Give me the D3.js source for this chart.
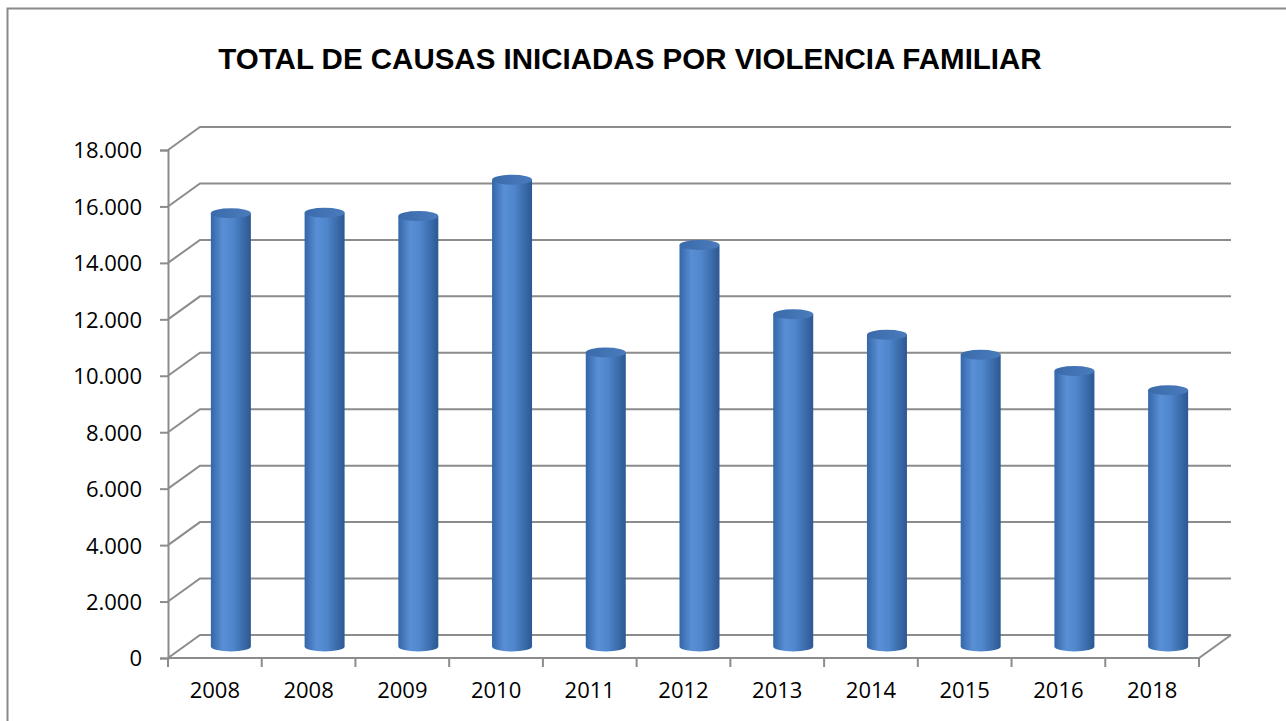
<!DOCTYPE html>
<html>
<head>
<meta charset="utf-8">
<script src="https://cdn.jsdelivr.net/npm/d3@7"></script>
<style>
  body { margin: 0; background: #fff; }
  svg { display: block; }
  .tick text { font-family: "Open Sans", Lato, sans-serif; font-weight: 400; font-size: 22px; fill: #000; }
</style>
</head>
<body>
<div id="chart"></div>
<script>
// data
var years = ["2008", "2008", "2009", "2010", "2011", "2012", "2013", "2014", "2015", "2016", "2018"];
var causas = [15350, 15370, 15250, 16540, 10420, 14225, 11770, 11045, 10340, 9760, 9080];
var yTicks = [0, 2000, 4000, 6000, 8000, 10000, 12000, 14000, 16000, 18000];

var width = 1286,
  height = 721;

// 3d depth of the plot (back wall offset)
var depthX = 32,
  depthY = -23;

var svg = d3
  .select("#chart")
  .append("svg")
  .attr("width", width)
  .attr("height", height);

// outer chart border
svg
  .append("rect")
  .attr("x", 7.5)
  .attr("y", 8.5)
  .attr("width", width)
  .attr("height", height)
  .attr("fill", "none")
  .attr("stroke", "#8a8a8a")
  .attr("stroke-width", 2);

svg
  .append("text")
  .attr("x", 630)
  .attr("y", 69)
  .attr("text-anchor", "middle")
  .style("font-family", "'Liberation Sans', Arial, sans-serif")
  .style("font-weight", "bold")
  .style("font-size", "29.5px")
  .text("TOTAL DE CAUSAS INICIADAS POR VIOLENCIA FAMILIAR");

var x = d3
  .scaleBand()
  .domain(d3.range(years.length))
  .range([168, 1199])
  .paddingInner(0)
  .paddingOuter(0);

var y = d3.scaleLinear().domain([0, 18000]).range([658, 150]);

var defs = svg.append("defs");
var grad = defs
  .append("linearGradient")
  .attr("id", "cyl")
  .attr("x1", "0%")
  .attr("x2", "100%");
grad.append("stop").attr("offset", "0%").attr("stop-color", "#3466a8");
grad.append("stop").attr("offset", "30%").attr("stop-color", "#5a8fd5");
grad.append("stop").attr("offset", "55%").attr("stop-color", "#4f86cc");
grad.append("stop").attr("offset", "100%").attr("stop-color", "#2c5892");

var topGrad = defs
  .append("linearGradient")
  .attr("id", "cylTop")
  .attr("x1", "0%")
  .attr("x2", "100%");
topGrad.append("stop").attr("offset", "0%").attr("stop-color", "#3a6aaa");
topGrad.append("stop").attr("offset", "100%").attr("stop-color", "#4a7cbd");

var gridColor = "#8c8c8c";
var grid = svg.append("g").attr("class", "grid");

// back wall lines and side wall diagonals
grid
  .selectAll("path.gl")
  .data(yTicks)
  .enter()
  .append("path")
  .attr("class", "gl")
  .attr("fill", "none")
  .attr("stroke", gridColor)
  .attr("stroke-width", 2)
  .attr("d", (d) => {
    var y0 = y(d);
    return (
      "M" + x.range()[0] + "," + y0 +
      "L" + (x.range()[0] + depthX) + "," + (y0 + depthY) +
      "L" + (x.range()[1] + depthX) + "," + (y0 + depthY)
    );
  });

// floor: front edge and right diagonal
grid
  .append("path")
  .attr("fill", "none")
  .attr("stroke", gridColor)
  .attr("stroke-width", 2)
  .attr(
    "d",
    "M" + x.range()[0] + "," + y(0) +
      "L" + x.range()[1] + "," + y(0) +
      "L" + (x.range()[1] + depthX) + "," + (y(0) + depthY)
  );

// category boundary ticks
grid
  .selectAll("line.xt")
  .data(d3.range(years.length + 1))
  .enter()
  .append("line")
  .attr("class", "xt")
  .attr("x1", (i) => (i < years.length ? x(i) : x.range()[1]))
  .attr("x2", (i) => (i < years.length ? x(i) : x.range()[1]))
  .attr("y1", y(0))
  .attr("y2", y(0) + 9)
  .attr("stroke", gridColor)
  .attr("stroke-width", 2);

// y axis
var y_axis = d3
  .axisLeft(y)
  .tickValues(yTicks)
  .tickSize(8)
  .tickPadding(18)
  .tickFormat((d) => d3.format(",")(d).replace(/,/g, "."));

var yg = svg
  .append("g")
  .attr("id", "y-axis")
  .attr("transform", "translate(168,0)")
  .call(y_axis);
yg.select(".domain").attr("stroke", gridColor).attr("stroke-width", 2);
yg.selectAll(".tick line").attr("stroke", gridColor).attr("stroke-width", 2);
yg.selectAll(".tick text").attr("dy", "0.36em");

// x axis labels at category centres
var x_axis = d3
  .axisBottom(x)
  .tickSize(0)
  .tickPadding(24)
  .tickFormat((i) => years[i]);

var xg = svg
  .append("g")
  .attr("id", "x-axis")
  .attr("transform", "translate(0," + y(0) + ")")
  .call(x_axis);
xg.select(".domain").remove();

// cylinders, placed half way into the depth
var barW = 40,
  rx = barW / 2,
  ry = 5;
var bars = svg
  .selectAll("g.bar")
  .data(causas)
  .enter()
  .append("g")
  .attr("class", "bar")
  .attr(
    "transform",
    (d, i) =>
      "translate(" + (x(i) + x.bandwidth() / 2 + depthX / 2) + "," + depthY / 2 + ")"
  );

bars
  .append("path")
  .attr("fill", "url(#cyl)")
  .attr("d", (d) => {
    var top = y(d),
      bot = y(0);
    return (
      "M" + -rx + "," + top +
      "L" + -rx + "," + bot +
      "A" + rx + "," + ry + " 0 0 0 " + rx + "," + bot +
      "L" + rx + "," + top +
      "Z"
    );
  });

bars
  .append("ellipse")
  .attr("cx", 0)
  .attr("cy", (d) => y(d))
  .attr("rx", rx)
  .attr("ry", ry)
  .attr("fill", "url(#cylTop)");
</script>
</body>
</html>
